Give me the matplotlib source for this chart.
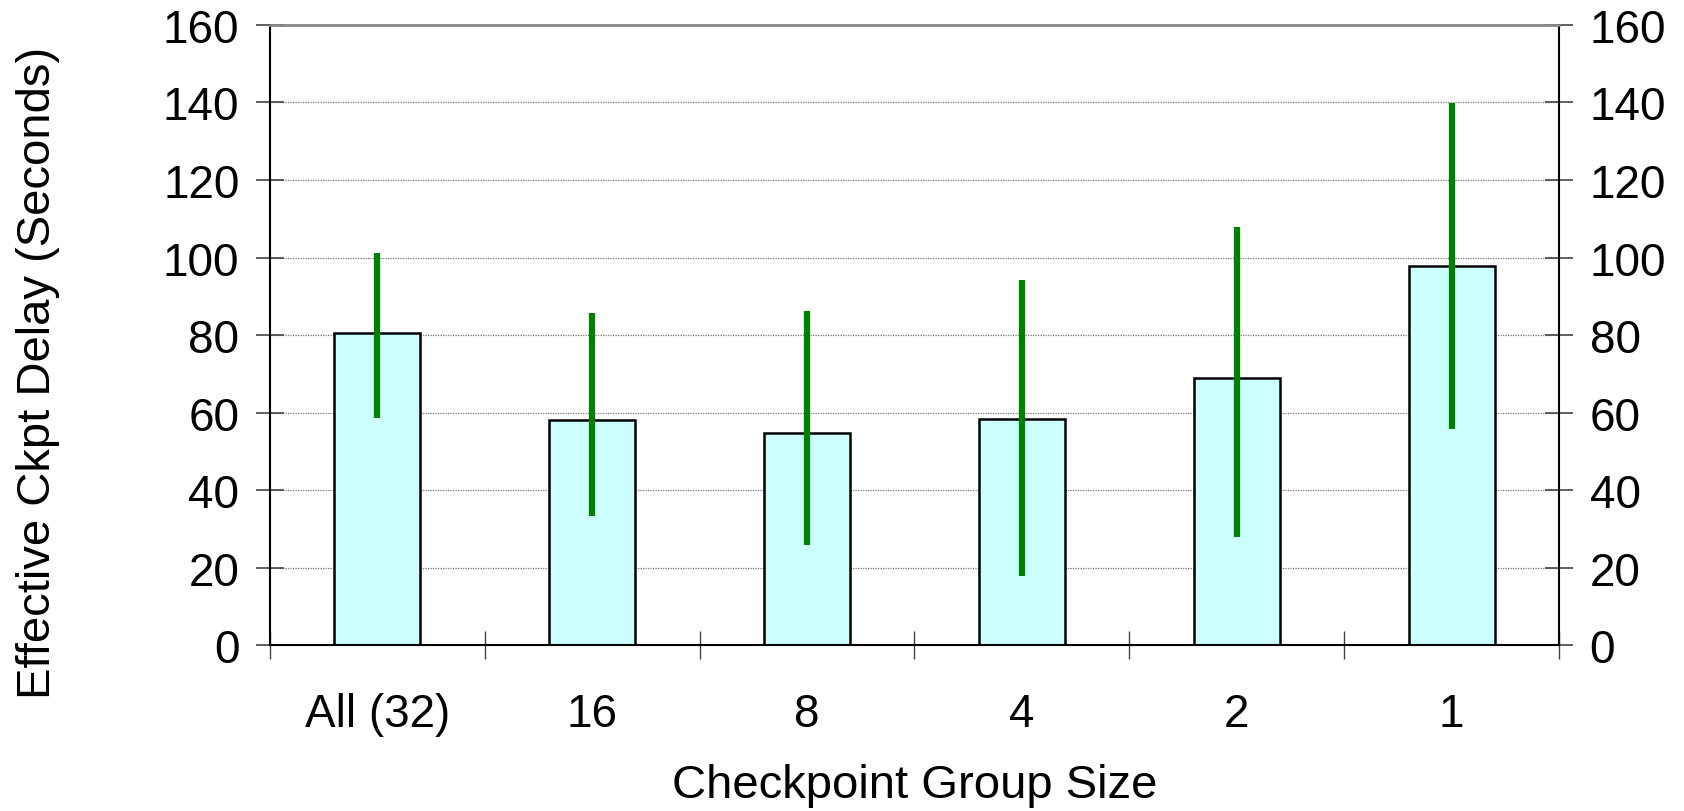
import numpy as np
import matplotlib.pyplot as plt
from matplotlib import font_manager

groups = ["All (32)", "16", "8", "4", "2", "1"]
delay_mean = [80.4, 58.0, 54.6, 58.2, 68.8, 97.9]
delay_low = [58.5, 33.3, 25.8, 17.7, 28.0, 55.7]
delay_high = [101.2, 85.7, 86.2, 94.3, 107.9, 139.8]
yticks = [0, 20, 40, 60, 80, 100, 120, 140, 160]

names = {f.name for f in font_manager.fontManager.ttflist}
narrow = "Liberation Sans Narrow" if "Liberation Sans Narrow" in names else "Liberation Sans"
plt.rcParams["font.family"] = "Liberation Sans"

fig = plt.figure(figsize=(16.84, 8.12), dpi=100)
ax = fig.add_axes([0.1603, 0.2044, 0.7655, 0.7636])

x = np.arange(len(groups))
ax.bar(x, delay_mean, 0.4, color="#ccffff", edgecolor="black", linewidth=1.8, zorder=2)
ax.vlines(x, delay_low, delay_high, color="#008000", linewidth=4.5, zorder=3)

ax.set_xlim(-0.5, len(groups) - 0.5)
ax.set_ylim(0, 160)
ax.set_yticks(yticks)
ax.yaxis.grid(True, linestyle=(0, (1, 1)), color="#777777", linewidth=0.9, zorder=0)

ax.set_xticks(x)
ax.set_xticklabels(groups, fontsize=33, family=narrow)
ax.set_xticks(np.arange(-0.5, len(groups)), minor=True)
ax.tick_params(axis="x", which="major", length=0, pad=34)
ax.tick_params(axis="x", which="minor", direction="inout", length=20, width=1, color="#444444")
ax.tick_params(axis="y", direction="inout", length=20, width=1.2, color="#444444",
               labelsize=33, pad=12, right=True, labelright=True)

for side in ["left", "bottom", "right"]:
    ax.spines[side].set_color("black")
    ax.spines[side].set_linewidth(1.5)
ax.spines["top"].set_color("#888888")
ax.spines["top"].set_linewidth(2)

ax.set_xlabel("Checkpoint Group Size", fontsize=34, family=narrow, labelpad=19)
ax.set_ylabel("Effective Ckpt Delay (Seconds)", fontsize=34)
ax.yaxis.set_label_coords(-0.163, 0.44)

fig.savefig("out.png", dpi=100)
